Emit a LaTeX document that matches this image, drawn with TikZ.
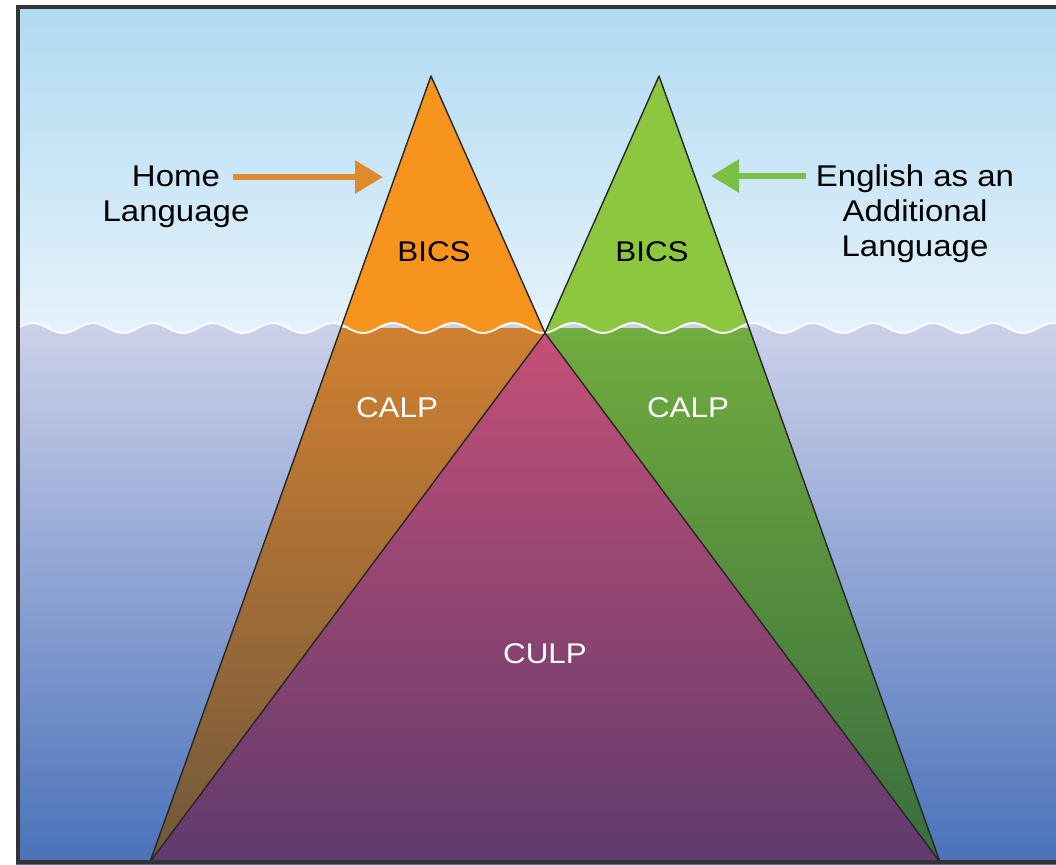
\documentclass[tikz,border=0pt]{standalone}
\usepackage{fontspec}
\newfontfamily\labelfont[FakeStretch=1.1]{Liberation Sans}
\usetikzlibrary{arrows.meta}

\definecolor{skyTop}{RGB}{176,218,242}
\definecolor{skyLow}{RGB}{230,243,251}
\definecolor{waterTop}{RGB}{210,213,236}
\definecolor{waterLow}{RGB}{74,114,186}
\definecolor{homeUp}{RGB}{247,148,29}
\definecolor{homeTop}{RGB}{208,128,48}
\definecolor{homeLow}{RGB}{112,88,60}
\definecolor{eslUp}{RGB}{141,198,63}
\definecolor{eslTop}{RGB}{112,172,62}
\definecolor{eslLow}{RGB}{56,108,62}
\definecolor{culpTop}{RGB}{196,80,118}
\definecolor{culpLow}{RGB}{96,58,110}
\definecolor{homeArrow}{RGB}{224,138,44}
\definecolor{eslArrow}{RGB}{122,193,67}

\begin{document}
\begin{tikzpicture}[x=1pt, y=-1pt,
  lbl/.style={font=\labelfont\fontsize{30}{35}\selectfont, align=center, inner sep=0pt},
  zone/.style={font=\labelfont\fontsize{28.5}{34}\selectfont, inner sep=0pt, white},
  rim/.style={black!85, line width=1.4pt, line join=round},
  pointer/.style={line width=6pt, -{Triangle[length=28pt, width=32pt]}},
  wave/.style={white, line width=2pt, opacity=0.9}
]
  \useasboundingbox (0,0) rectangle (1056,864);

  % corners of the three peaks
  \coordinate (homeApex) at (431,76);
  \coordinate (eslApex)  at (659,76);
  \coordinate (meet)     at (545,333);
  \coordinate (baseL)    at (150,862);
  \coordinate (baseR)    at (940,862);

  % water
  \shade[top color=waterTop, bottom color=waterLow] (16,300) rectangle (1070,864);

  % peaks below the surface
  \begin{scope}
    \clip (homeApex) -- (meet) -- (baseL) -- cycle;
    \shade[top color=homeTop, bottom color=homeLow] (0,328) rectangle (1056,862);
  \end{scope}
  \begin{scope}
    \clip (eslApex) -- (baseR) -- (meet) -- cycle;
    \shade[top color=eslTop, bottom color=eslLow] (0,328) rectangle (1056,862);
  \end{scope}
  \shade[top color=culpTop, bottom color=culpLow] (meet) -- (baseR) -- (baseL) -- cycle;

  % sky and the tips above the surface
  \begin{scope}
    \clip (16,0) -- (16,328)
      -- plot[domain=16:1070, samples=300] (\x, {328 - 5*cos(6*(\x-333))})
      -- (1070,0) -- cycle;
    \shade[top color=skyTop, bottom color=skyLow] (16,6) rectangle (1070,336);
    \fill[homeUp] (homeApex) -- (meet) -- (baseL) -- cycle;
    \fill[eslUp] (eslApex) -- (baseR) -- (meet) -- cycle;
  \end{scope}

  % surface line
  \draw[wave] plot[domain=16:1070, samples=300] (\x, {328 - 5*cos(6*(\x-333))});

  % outlines
  \draw[rim] (baseL) -- (homeApex) -- (meet) -- (baseR);
  \draw[rim] (baseR) -- (eslApex) -- (meet) -- (baseL);

  % frame
  \draw[black!80, line width=4pt] (17.5,7.5) rectangle (1090,861.5);

  % labels
  \node[lbl] (home) at (176,197) {Home\\Language};
  \node[lbl] (esl)  at (915,214) {English as an\\Additional\\Language};

  \node[zone, black] (bicsL) at (434,252) {BICS};
  \node[zone, black] (bicsR) at (652,252) {BICS};
  \node[zone] (calpL) at (397,408) {CALP};
  \node[zone] (calpR) at (688,408) {CALP};
  \node[zone] (culp)  at (545,654) {CULP};

  % arrows
  \coordinate (homeTail) at (233,177);
  \coordinate (homeTip)  at (383,177);
  \coordinate (eslTail)  at (806,176);
  \coordinate (eslTip)   at (711,176);
  \draw[pointer, homeArrow] (homeTail) -- (homeTip);
  \draw[pointer, eslArrow] (eslTail) -- (eslTip);
\end{tikzpicture}
\end{document}
